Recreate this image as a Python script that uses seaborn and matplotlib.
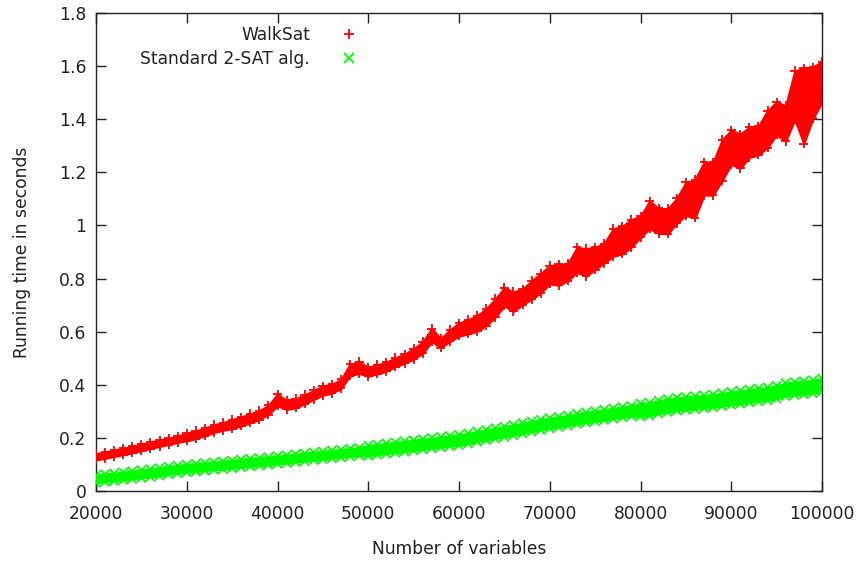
import numpy as np
import pandas as pd
import matplotlib
matplotlib.use("Agg")
import matplotlib.pyplot as plt
import seaborn as sns

# x positions (number of variables, every 1000 from 20000 to 100000)
n_vars = list(range(20000, 100001, 1000))

# WalkSat running time: centre of the point cloud and half spread (seconds)
walksat_mid = [0.129, 0.135, 0.142, 0.149, 0.156, 0.164, 0.172, 0.180, 0.187, 0.195,
               0.204, 0.212, 0.222, 0.235, 0.243, 0.252, 0.262, 0.274, 0.286, 0.305,
               0.343, 0.324, 0.330, 0.345, 0.362, 0.378, 0.385, 0.403, 0.456, 0.465,
               0.449, 0.458, 0.468, 0.485, 0.498, 0.516, 0.540, 0.587, 0.557, 0.585,
               0.608, 0.618, 0.631, 0.655, 0.689, 0.731, 0.713, 0.731, 0.757, 0.782,
               0.814, 0.814, 0.824, 0.870, 0.861, 0.876, 0.895, 0.936, 0.945, 0.970,
               0.995, 1.040, 1.017, 1.016, 1.055, 1.100, 1.100, 1.176, 1.176, 1.246,
               1.294, 1.280, 1.313, 1.320, 1.363, 1.403, 1.384, 1.490, 1.450, 1.500,
               1.540]
walksat_half = [0.012, 0.012, 0.012, 0.012, 0.012, 0.012, 0.012, 0.012, 0.012, 0.012,
                0.0145, 0.0145, 0.0145, 0.0145, 0.0145, 0.017, 0.017, 0.017, 0.017, 0.017,
                0.022, 0.017, 0.017, 0.017, 0.017, 0.017, 0.017, 0.017, 0.022, 0.022,
                0.017, 0.017, 0.017, 0.017, 0.017, 0.0195, 0.022, 0.0245, 0.017, 0.022,
                0.0245, 0.027, 0.0295, 0.032, 0.0345, 0.0345, 0.037, 0.0295, 0.0345, 0.037,
                0.0345, 0.0395, 0.032, 0.047, 0.052, 0.042, 0.037, 0.052, 0.052, 0.052,
                0.0395, 0.052, 0.047, 0.047, 0.047, 0.062, 0.072, 0.062, 0.062, 0.077,
                0.0645, 0.0645, 0.057, 0.0545, 0.0695, 0.062, 0.067, 0.092, 0.142, 0.097,
                0.077]

# Standard 2-SAT algorithm running time: centre and half spread (seconds)
twosat_mid = [0.045, 0.049, 0.052, 0.056, 0.060, 0.064, 0.068, 0.072, 0.077, 0.081,
              0.085, 0.088, 0.091, 0.094, 0.097, 0.100, 0.104, 0.107, 0.110, 0.113,
              0.117, 0.120, 0.124, 0.127, 0.131, 0.134, 0.138, 0.141, 0.145, 0.148,
              0.152, 0.156, 0.160, 0.164, 0.168, 0.172, 0.176, 0.180, 0.184, 0.188,
              0.192, 0.198, 0.205, 0.211, 0.217, 0.223, 0.229, 0.236, 0.243, 0.249,
              0.255, 0.260, 0.265, 0.272, 0.277, 0.282, 0.287, 0.292, 0.297, 0.301,
              0.305, 0.308, 0.316, 0.322, 0.327, 0.330, 0.333, 0.336, 0.339, 0.344,
              0.349, 0.353, 0.358, 0.362, 0.366, 0.372, 0.382, 0.386, 0.389, 0.393,
              0.399]
twosat_half = [0.0145] * 30 + [0.0195] * 30 + [0.0245] * 21

series_names = ["WalkSat", "Standard 2-SAT alg."]
colors = {"WalkSat": "#ff0000", "Standard 2-SAT alg.": "#00ff00"}

x = np.array(n_vars, dtype=float)
bands = {}
rows = []
for name, mid, half in [("WalkSat", walksat_mid, walksat_half),
                        ("Standard 2-SAT alg.", twosat_mid, twosat_half)]:
    mid = np.array(mid)
    half = np.array(half)
    lo, hi = mid - half, mid + half
    bands[name] = (lo, hi)
    for arr in (lo, mid, hi):
        for xv, yv in zip(x, arr):
            rows.append({"vars": xv, "time": yv, "series": name})
df = pd.DataFrame(rows)

sns.set_style("ticks")
plt.rcParams["font.family"] = ["DejaVu Sans"]
FS = 12.3
TXT = "#222222"

fig = plt.figure(figsize=(8.57, 5.61), dpi=100)
ax = fig.add_axes([96 / 857, 70 / 561, 726 / 857, 478 / 561])

for name in series_names:
    lo, hi = bands[name]
    ax.fill_between(x, lo, hi, color=colors[name], linewidth=1.5,
                    edgecolor=colors[name], zorder=2)

sns.scatterplot(data=df, x="vars", y="time", hue="series", style="series",
                hue_order=series_names, style_order=series_names,
                palette=colors, markers={"WalkSat": "+", "Standard 2-SAT alg.": "x"},
                s=40, linewidth=1.3, ax=ax, zorder=3)

ax.set_xlim(20000, 100000)
ax.set_ylim(0, 1.8)
ax.set_xticks(np.arange(20000, 100001, 10000))
ax.set_yticks(np.arange(0, 1.81, 0.2))
ax.set_yticklabels(["0", "0.2", "0.4", "0.6", "0.8", "1", "1.2", "1.4", "1.6", "1.8"])
ax.tick_params(axis="both", direction="in", length=7, width=1, labelsize=FS,
               colors=TXT, top=True, right=True)
ax.tick_params(axis="y", pad=7)
ax.tick_params(axis="x", pad=10)
for sp in ax.spines.values():
    sp.set_visible(True)
    sp.set_color(TXT)
    sp.set_linewidth(1)

ax.set_xlabel("Number of variables", fontsize=FS, color=TXT, labelpad=12)
ax.set_ylabel("Running time in seconds", fontsize=FS, color=TXT, labelpad=20)

leg = ax.legend(title=None, markerfirst=False, frameon=False, loc="upper right",
                bbox_to_anchor=(0.389, 0.997), fontsize=FS, handletextpad=1.3,
                labelspacing=0.3, borderaxespad=0.3)
for t in leg.get_texts():
    t.set_color(TXT)
for h in leg.legend_handles:
    if hasattr(h, "set_markersize"):
        h.set_markersize(7.5)
        h.set_markeredgewidth(1.3)

fig.savefig("out.png", dpi=100)
